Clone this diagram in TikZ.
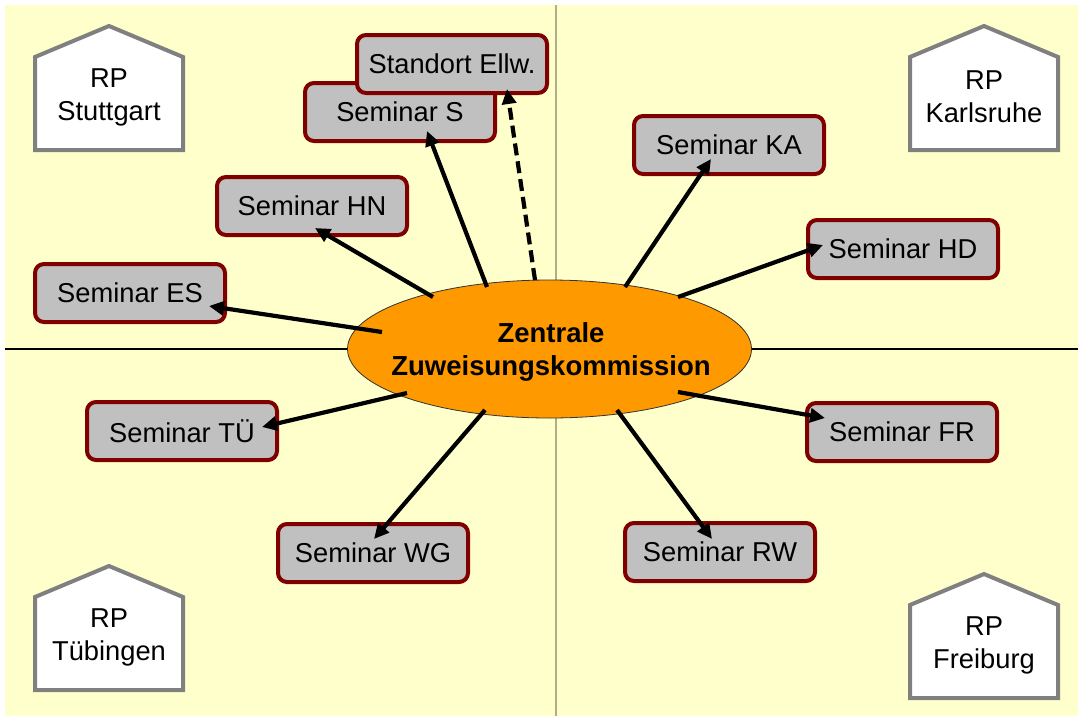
\documentclass[tikz,border=0pt]{standalone}
\usepackage{fontspec}
\setmainfont{Liberation Sans}
\usetikzlibrary{arrows.meta,shapes.geometric}
\definecolor{bgyellow}{HTML}{FFFFCC}
\definecolor{boxred}{HTML}{800000}
\definecolor{boxgray}{HTML}{C0C0C0}
\definecolor{housegray}{HTML}{808080}
\definecolor{zorange}{HTML}{FF9900}
\definecolor{vline}{HTML}{B4AC88}
\newcommand{\RPhouse}[4]{%
  \draw[housegray,line width=4pt,fill=white,line join=miter]
    (#1,#2+124) -- (#1,#2+31) -- (#1+74,#2) -- (#1+148,#2+31) -- (#1+148,#2+124) -- cycle;
  \node[lbl] (#3) at (#1+74,#2+71) {RP\\#4};}
\begin{document}
\begin{tikzpicture}[x=1pt,y=-1pt,
  lbl/.style={align=center,font=\fontsize{27.3}{33}\selectfont,inner sep=0pt},
  sembox/.style={draw=boxred,line width=4pt,fill=boxgray,rounded corners=9pt,
    minimum width=190pt,minimum height=58pt,inner sep=0pt,
    font=\fontsize{27.3}{33}\selectfont},
  arr/.style={line width=4.2pt,-{Triangle[length=15pt,width=14pt]}},
  darr/.style={arr,dash pattern=on 12pt off 6pt}]
\useasboundingbox (0,0) rectangle (1078,716);
\fill[bgyellow] (5,5) rectangle (1078,716);
\draw[vline,line width=2pt] (556,5) -- (556,716);
\draw[black,line width=1.5pt] (5,349) -- (1078,349);
% houses
\RPhouse{35}{26}{hS}{Stuttgart}
\RPhouse{910}{26}{hK}{Karlsruhe}
\RPhouse{35}{566}{hT}{Tübingen}
\RPhouse{910}{574}{hF}{Freiburg}
% seminar boxes
\node[sembox] (S) at (400,112) {Seminar S};
\node[sembox] (E) at (452,64) {Standort Ellw.};
\node[sembox] (HN) at (312,206) {Seminar HN};
\node[sembox] (ES) at (130,293) {Seminar ES};
\node[sembox] (KA) at (729,145) {Seminar KA};
\node[sembox] (HD) at (903,249) {Seminar HD};
\node[sembox] (TU) at (182,431) {Seminar TÜ};
\node[sembox] (FR) at (902,432) {Seminar FR};
\node[sembox] (WG) at (373,553) {Seminar WG};
\node[sembox] (RW) at (720,552) {Seminar RW};
% central ellipse
\node[ellipse,draw=black!80,line width=0.8pt,fill=zorange,minimum width=404pt,
  minimum height=138pt,inner sep=0pt] (Z) at (549.5,349) {};
\node[align=center,inner sep=0pt,font=\bfseries\fontsize{27.5}{33}\selectfont]
  (Zt) at (551,352) {Zentrale\\Zuweisungskommission};
% arrow end points
\coordinate (sES) at (382,332); \coordinate (tES) at (209,306);
\coordinate (sHN) at (433,297); \coordinate (tHN) at (315,228);
\coordinate (sS) at (487,287);  \coordinate (tS) at (427,131);
\coordinate (sE) at (535,280);  \coordinate (tE) at (507,89);
\coordinate (sKA) at (625,287); \coordinate (tKA) at (711,159);
\coordinate (sHD) at (678,297); \coordinate (tHD) at (823,245);
\coordinate (sTU) at (407,393); \coordinate (tTU) at (262,427);
\coordinate (sWG) at (485,410); \coordinate (tWG) at (374,539);
\coordinate (sRW) at (617,410); \coordinate (tRW) at (712,539);
\coordinate (sFR) at (678,392); \coordinate (tFR) at (825,418);
\draw[arr] (sES) -- (tES);
\draw[arr] (sHN) -- (tHN);
\draw[arr] (sS) -- (tS);
\draw[darr] (sE) -- (tE);
\draw[arr] (sKA) -- (tKA);
\draw[arr] (sHD) -- (tHD);
\draw[arr] (sTU) -- (tTU);
\draw[arr] (sWG) -- (tWG);
\draw[arr] (sRW) -- (tRW);
\draw[arr] (sFR) -- (tFR);
\end{tikzpicture}
\end{document}
